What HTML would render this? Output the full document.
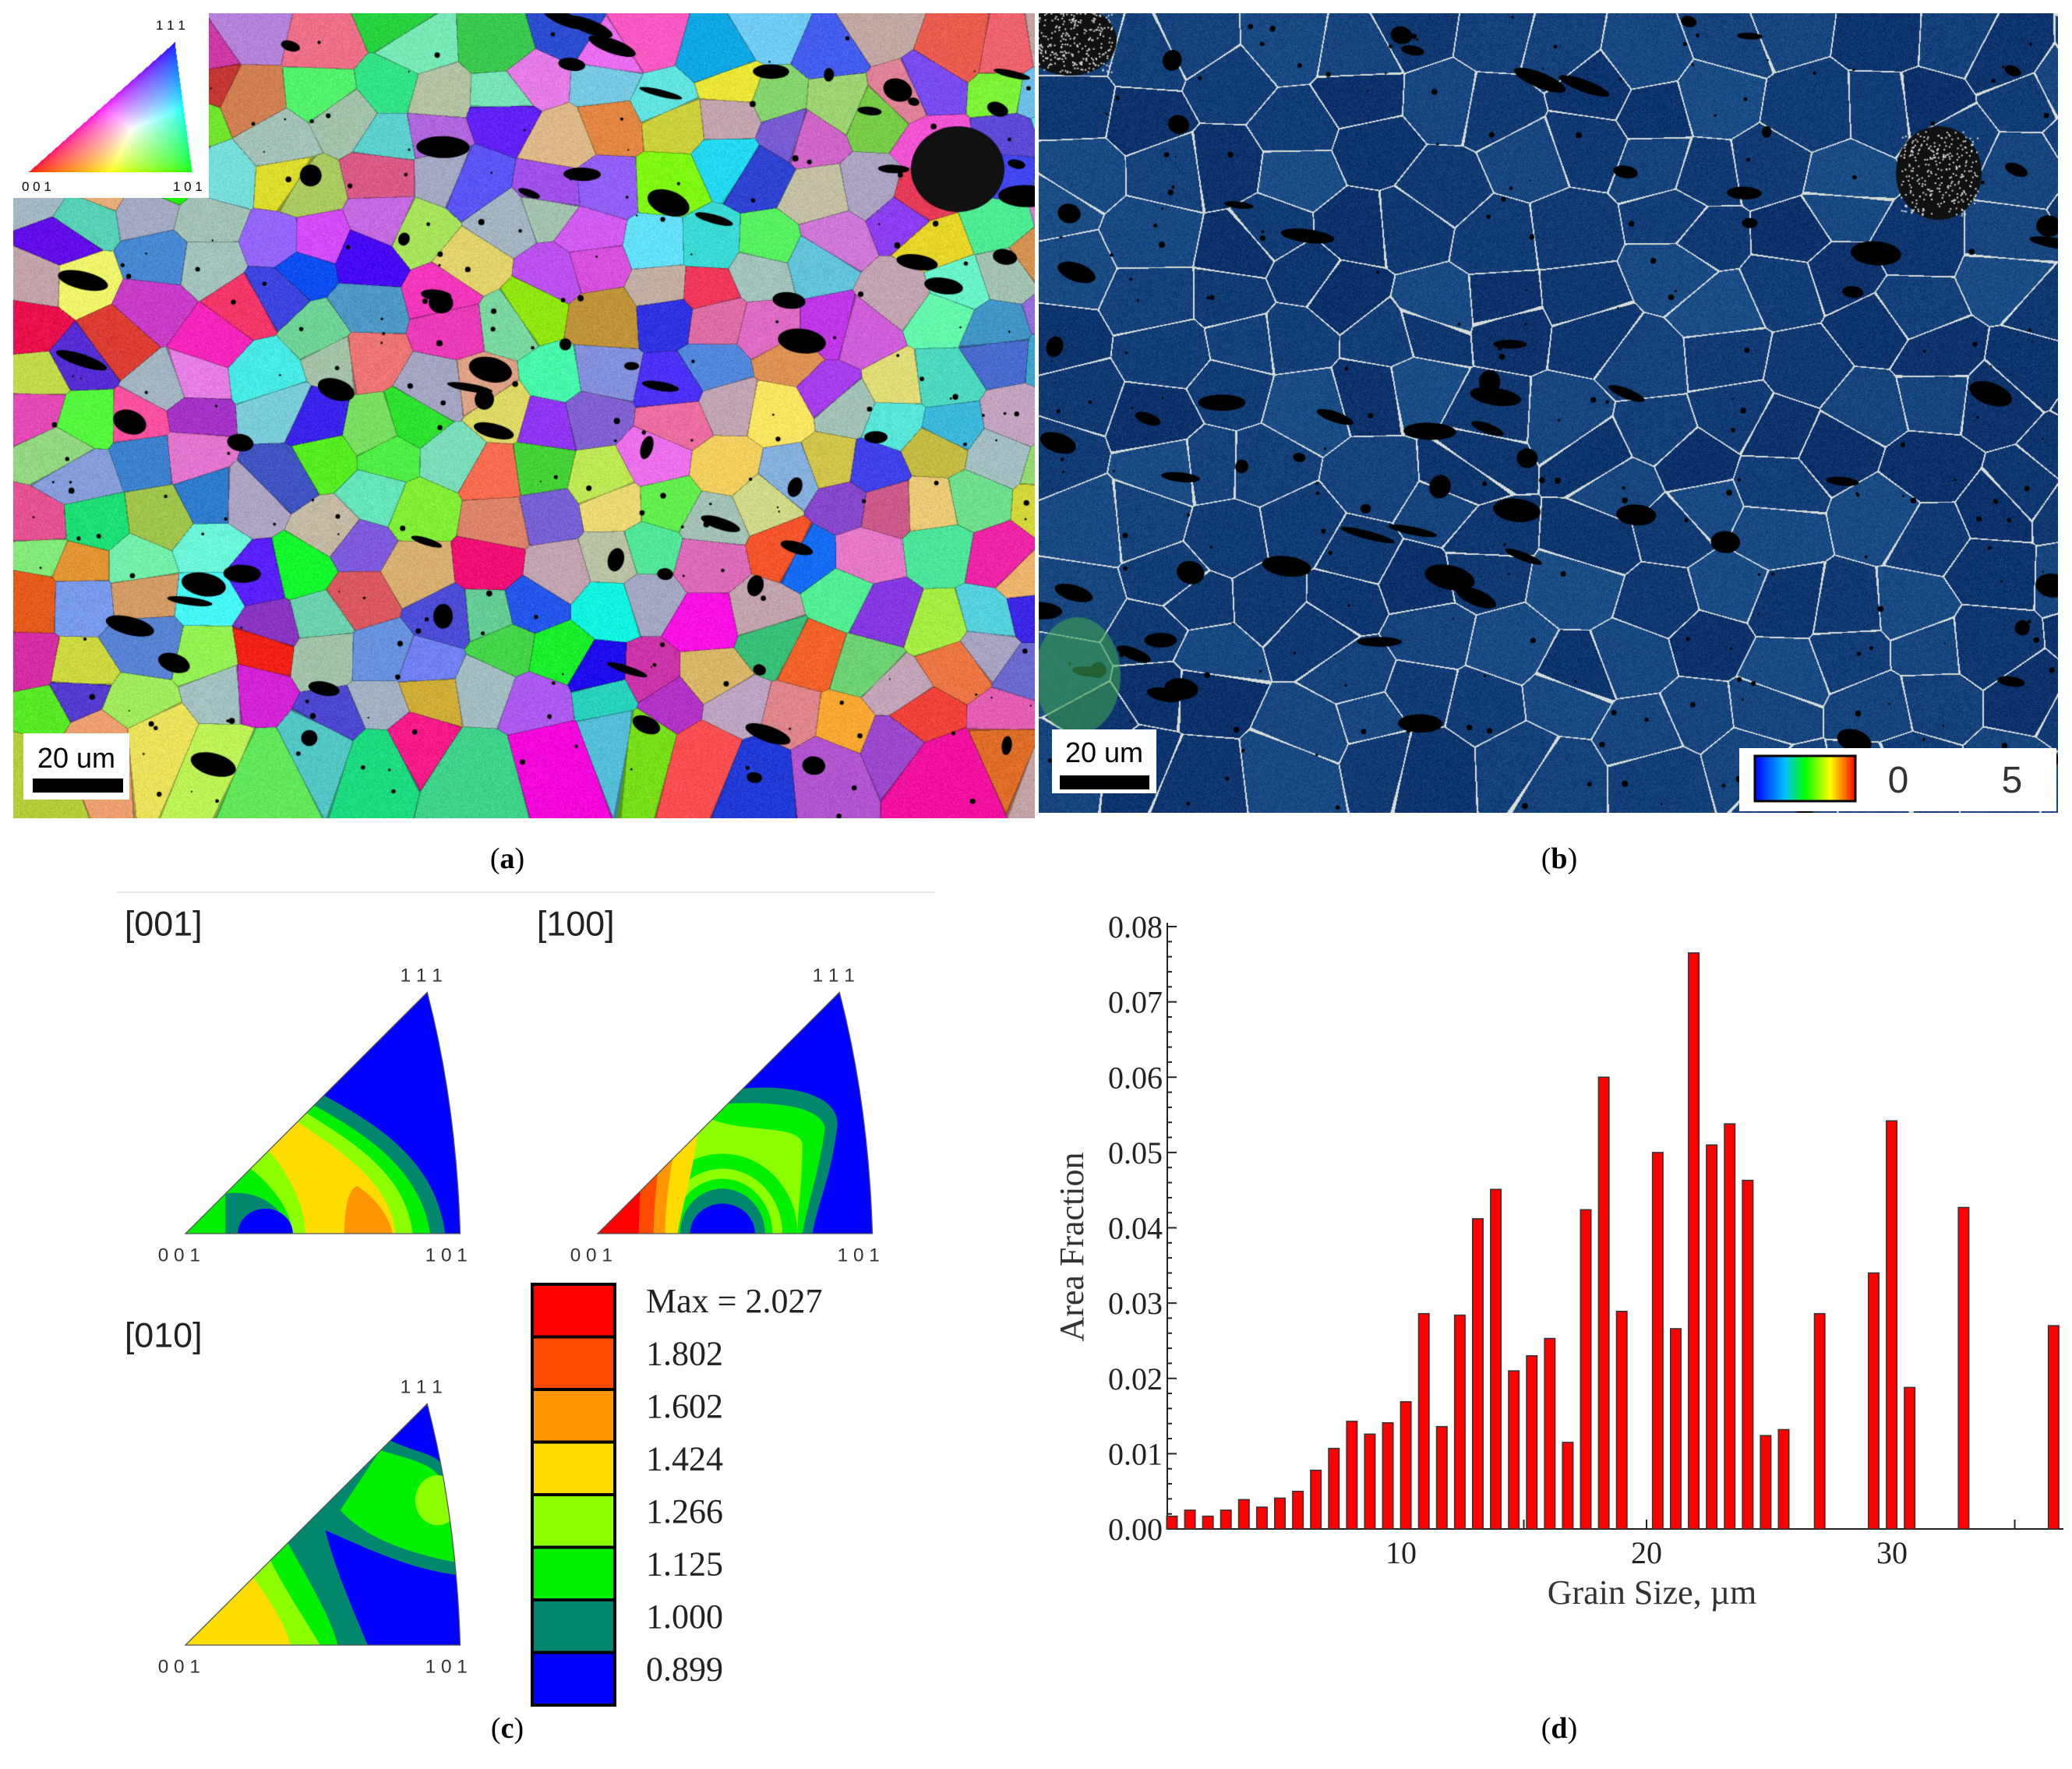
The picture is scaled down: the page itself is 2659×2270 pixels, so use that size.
<!DOCTYPE html>
<html><head><meta charset="utf-8">
<style>
html,body{margin:0;padding:0;background:#fff;}
body{width:2659px;height:2270px;position:relative;overflow:hidden;font-family:"Liberation Serif",serif;}
canvas{position:absolute;}
.lbl{position:absolute;font-size:38px;font-family:"Liberation Serif",serif;transform:translateX(-50%);}
</style></head><body>
<canvas id="ca" width="1311" height="1033" style="left:17px;top:17px"></canvas>
<canvas id="cb" width="1308" height="1026" style="left:1333px;top:17px"></canvas>
<svg id="ov" width="2659" height="2270" style="position:absolute;left:0;top:0" xmlns="http://www.w3.org/2000/svg">
  <g>
    <rect x="17" y="17" width="251" height="237" fill="#fff"/>
    <foreignObject x="37" y="54" width="210" height="167"><canvas xmlns="http://www.w3.org/1999/xhtml" id="ck" width="210" height="167" style="position:static"></canvas></foreignObject>
    <text x="28" y="245" font-size="17" font-family="Liberation Sans">0 0 1</text>
    <text x="222" y="245" font-size="17" font-family="Liberation Sans">1 0 1</text>
    <text x="200" y="38" font-size="17" font-family="Liberation Sans">1 1 1</text>
  </g>
  <g>
    <rect x="30" y="941" width="136" height="85" fill="#fff"/>
    <text x="98" y="985" font-size="36" font-family="Liberation Sans" text-anchor="middle">20 um</text>
    <rect x="42" y="999" width="116" height="18" fill="#000"/>
  </g>
  <g>
    <rect x="1350" y="936" width="134" height="82" fill="#fff"/>
    <text x="1417" y="978" font-size="36" font-family="Liberation Sans" text-anchor="middle">20 um</text>
    <rect x="1360" y="995" width="115" height="18" fill="#000"/>
  </g>
  <g>
    <defs><linearGradient id="rb" x1="0" x2="1"><stop offset="0" stop-color="#0000ff"/><stop offset="0.3" stop-color="#00c0ff"/><stop offset="0.5" stop-color="#00ff00"/><stop offset="0.75" stop-color="#ffff00"/><stop offset="1" stop-color="#ff0000"/></linearGradient></defs>
    <rect x="2232" y="960" width="407" height="81" fill="#fff"/>
    <rect x="2252" y="970" width="129" height="58" fill="url(#rb)" stroke="#000" stroke-width="3"/>
    <text x="2436" y="1017" font-size="48" font-family="Liberation Sans" text-anchor="middle" fill="#333">0</text>
    <text x="2582" y="1017" font-size="48" font-family="Liberation Sans" text-anchor="middle" fill="#333">5</text>
  </g>
  <line x1="150" y1="1145" x2="1200" y2="1145" stroke="#e6e6e6" stroke-width="2"/>
  <g id="pf"></g>
  <g id="legend"></g>
  <g id="chart"></g>
</svg>
<div class="lbl" style="left:651px;top:1080px">(<b>a</b>)</div>
<div class="lbl" style="left:2001px;top:1080px">(<b>b</b>)</div>
<div class="lbl" style="left:651px;top:2196px">(<b>c</b>)</div>
<div class="lbl" style="left:2001px;top:2196px">(<b>d</b>)</div>
<script>
// ---- histogram data ----
const binStart = 0.667;
const binStep = 0.733;
const areaFraction = [0.0017,0.0025,0.0017,0.0025,0.0039,0.0029,0.0041,0.005,0.0078,0.0107,
 0.0143,0.0126,0.0141,0.0169,0.0286,0.0136,0.0284,0.0412,0.0451,0.021,
 0.023,0.0253,0.0115,0.0424,0.06,0.0289,0,0.05,0.0266,0.0765,
 0.051,0.0538,0.0463,0.0124,0.0132,0,0.0286,0,0,0.034,
 0.0542,0.0188,0,0,0.0427,0,0,0,0,0.027];
const yTickLabels = ["0.00","0.01","0.02","0.03","0.04","0.05","0.06","0.07","0.08"];
const xTickLabels = ["10","20","30"];
const legendLabels = ["Max = 2.027","1.802","1.602","1.424","1.266","1.125","1.000","0.899"];
const legendColors = ["#ff0000","#ff4b00","#ff9600","#ffdc00","#8cff00","#00f000","#00876e","#0000ff"];

const NS="http://www.w3.org/2000/svg";
function mk(tag,attrs,parent){const e=document.createElementNS(NS,tag);for(const k in attrs)e.setAttribute(k,attrs[k]);parent.appendChild(e);return e;}
const xs=v=>1798+(v-10)*31.5;
const ys=v=>1962-v/0.08*773;
const chart=document.getElementById('chart');
mk('line',{x1:1498,y1:ys(0),x2:2648,y2:ys(0),stroke:'#222','stroke-width':2},chart);
mk('line',{x1:1498,y1:ys(0),x2:1498,y2:ys(0.0805),stroke:'#222','stroke-width':2},chart);
for(let i=0;i<=40;i++){const v=i*0.002;const len=i%5==0?12:6;mk('line',{x1:1498,y1:ys(v),x2:1498+len,y2:ys(v),stroke:'#222','stroke-width':2},chart);}
yTickLabels.forEach((t,i)=>{const e=mk('text',{x:1492,y:ys(i*0.01)+14,'text-anchor':'end','font-size':40,fill:'#222'},chart);e.textContent=t;
 
 });
[5,10,15,20,25,30,35].forEach(v=>mk('line',{x1:xs(v),y1:ys(0),x2:xs(v),y2:ys(0)-12,stroke:'#222','stroke-width':2},chart));
xTickLabels.forEach(t=>{const e=mk('text',{x:xs(+t),y:2006,'text-anchor':'middle','font-size':40,fill:'#222'},chart);e.textContent=t;
 
 });
areaFraction.forEach((v,i)=>{if(v<=0)return;const c=binStart+i*binStep;const r=mk('rect',{x:xs(c)-6.8,y:ys(v),width:13.5,height:ys(0)-ys(v),fill:'#ff0000',stroke:'#333','stroke-width':1.5},chart);
 
 });
let t=mk('text',{x:2120,y:2058,'text-anchor':'middle','font-size':44,fill:'#333'},chart);t.textContent='Grain Size, µm';


t=mk('text',{x:0,y:0,'text-anchor':'middle','font-size':44,fill:'#333',transform:'translate(1390,1600) rotate(-90)'},chart);t.textContent='Area Fraction';



// ---- legend ----
const lg=document.getElementById('legend');
legendColors.forEach((c,i)=>{const y=1648+i*67.5;const r=mk('rect',{x:683,y:y,width:106,height:67.5,fill:c,stroke:'#000','stroke-width':4},lg);
 
 
 const e=mk('text',{x:829,y:y+36,'font-size':44,fill:'#222'},lg);e.textContent=legendLabels[i];
 
 });

// ---- pole figures ----
const pf=document.getElementById('pf');
const C={b:'#0000ff',dg:'#00876e',g:'#00f000',lg:'#8cff00',y:'#ffdc00',o:'#ff9600',or:'#ff4b00',r:'#ff0000'};
const tri='M0,0 L484,-483 Q542,-260 550,0 Z';
function drawTri(id,ox,oy,title,layers){
  const g=mk('g',{transform:`translate(${ox},${oy}) scale(0.641)`},pf);
  
  
  const cp=mk('clipPath',{id:'cp'+id},g);mk('path',{d:tri},cp);
  const inner=mk('g',{'clip-path':`url(#cp${id})`},g);
  mk('path',{d:tri,fill:C.b},inner);
  layers.forEach(L=>{if(L[0]=='e')mk('ellipse',{cx:L[2],cy:L[3],rx:L[4],ry:L[5],fill:C[L[1]]},inner);else mk('path',{d:L[1],fill:C[L[0]]},inner);});
  mk('path',{d:tri,fill:'none',stroke:'#555','stroke-width':2},g);
  const s={'font-size':38,'font-family':'Liberation Sans',fill:'#333'};
  let e=mk('text',Object.assign({x:-55,y:55},s),g);e.textContent='0 0 1';
  e=mk('text',Object.assign({x:480,y:55},s),g);e.textContent='1 0 1';
  e=mk('text',Object.assign({x:430,y:-505},s),g);e.textContent='1 1 1';
  e=mk('text',{x:-122,y:-597,'font-size':70,'font-family':'Liberation Sans',fill:'#222'},g);e.textContent=title;
}
drawTri('001',238,1583,'[001]',[
 ['dg','M275,-278 C380,-220 500,-150 520,0 L0,0Z'],
 ['g','M255,-258 C360,-200 470,-130 490,0 L0,0Z'],
 ['lg','M240,-243 C340,-180 440,-120 455,0 L0,0Z'],
 ['y','M222,-225 C320,-160 410,-100 420,0 L0,0Z'],
 ['lg','M165,-168 C200,-130 240,-60 240,0 L0,0Z'],
 ['g','M130,-130 C170,-100 210,-50 215,0 L0,0Z'],
 ['dg','M80,-80 C150,-90 200,-50 205,0 L80,0Z'],
 ['e','b',160,0,55,50],
 ['o','M318,0 C318,-60 330,-95 345,-95 C380,-70 405,-40 415,0 Z']
]);
drawTri('100',767,1583,'[100]',[
 ['dg','M287,-290 C380,-300 480,-280 480,-220 C470,-120 440,-60 430,0 L0,0Z'],
 ['g','M258,-260 C330,-265 450,-260 455,-210 C445,-130 420,-60 410,0 L0,0Z'],
 ['lg','M225,-230 C300,-200 400,-220 410,-180 C410,-100 400,-50 400,0 L0,0Z'],
 ['e','g',250,0,150,160],
 ['e','lg',250,0,120,130],
 ['e','g',250,0,100,110],
 ['e','dg',250,0,85,90],
 ['e','b',250,0,65,60],
 ['y','M200,-200 C190,-120 170,-60 160,0 L0,0Z'],
 ['o','M150,-150 C140,-90 135,-40 135,0 L0,0Z'],
 ['or','M120,-120 C115,-70 112,-30 112,0 L0,0Z'],
 ['r','M85,-85 L82,0 L0,0Z']
]);
drawTri('010',238,2111,'[010]',[
 ['dg','M410,-410 C460,-385 500,-385 515,-360 L548,-140 C450,-150 350,-200 280,-230 C300,-150 340,-60 365,0 L0,0Z'],
 ['g','M390,-390 C450,-372 500,-362 512,-330 L545,-165 C440,-185 360,-215 310,-270 Z'],
 ['e','lg',505,-290,45,50],
 ['g','M205,-205 C240,-140 290,-60 305,0 L0,0Z'],
 ['lg','M170,-170 C200,-110 240,-50 270,0 L0,0Z'],
 ['y','M135,-135 C170,-90 200,-40 210,0 L0,0Z']
]);

// ---- microstructure maps ----
function rng(s){return function(){s|=0;s=s+0x6D2B79F5|0;let t=Math.imul(s^s>>>15,1|s);t=t+Math.imul(t^t>>>7,61|t)^t;return((t^t>>>14)>>>0)/4294967296;}}
function hsl(h,s,l){s/=100;l/=100;const k=n=>(n+h/30)%12,a=s*Math.min(l,1-l),f=n=>l-a*Math.max(-1,Math.min(k(n)-3,Math.min(9-k(n),1)));return[255*f(0),255*f(8),255*f(4)];}
function voronoi(cv,cell,seed,colorFn,boundary){
  const W=cv.width,H=cv.height,ctx=cv.getContext('2d'),R=rng(seed);
  const gw=Math.ceil(W/cell)+1,gh=Math.ceil(H/cell)+1,px=[],py=[],col=[];
  for(let j=0;j<gh;j++)for(let i=0;i<gw;i++){px.push((i+0.1+R()*0.8)*cell);py.push((j+0.1+R()*0.8)*cell*0.85);col.push(colorFn(R));}
  const img=ctx.createImageData(W,H),d=img.data;
  const ch=cell*0.85;
  for(let y=0;y<H;y++){const cj=Math.floor(y/ch);for(let x=0;x<W;x++){const ci=Math.floor(x/cell);
    let b1=1e12,b2=1e12,bi=0;
    for(let dj=-2;dj<=2;dj++){const jj=cj+dj;if(jj<0||jj>=gh)continue;for(let di=-2;di<=2;di++){const ii=ci+di;if(ii<0||ii>=gw)continue;
      const k=jj*gw+ii,dx=px[k]-x,dy=(py[k]-y)*1.15,dd=dx*dx+dy*dy;if(dd<b1){b2=b1;b1=dd;bi=k;}else if(dd<b2)b2=dd;}}
    const o=(y*W+x)*4,c=col[bi],n=(R()-0.5)*30;
    if(boundary&&Math.sqrt(b2)-Math.sqrt(b1)<1.8){d[o]=215;d[o+1]=220;d[o+2]=215;}
    else if(!boundary&&Math.sqrt(b2)-Math.sqrt(b1)<1.2){d[o]=c[0]*0.7;d[o+1]=c[1]*0.7;d[o+2]=c[2]*0.7;}
    else{d[o]=c[0]+n;d[o+1]=c[1]+n;d[o+2]=c[2]+n;}
    d[o+3]=255;}}
  ctx.putImageData(img,0,0);
  ctx.fillStyle='#000';
  for(let i=0;i<70;i++){const x=R()*W,y=R()*H,w=6+R()*30,h=4+R()*12;ctx.beginPath();ctx.ellipse(x,y,w,h,R()*0.4,0,7);ctx.fill();}
  for(let i=0;i<200;i++){ctx.beginPath();ctx.arc(R()*W,R()*H,1+R()*3,0,7);ctx.fill();}
}
voronoi(document.getElementById('ca'),72,7,R=>R()<0.15?hsl(R()*360,20,70):hsl(R()*360,50+R()*45,48+R()*22),false);
(function(){const c=document.getElementById('ca').getContext('2d');c.fillStyle='#111';c.beginPath();c.ellipse(1212,200,60,55,0,0,7);c.fill();})();
voronoi(document.getElementById('cb'),92,11,R=>{const v=R();return[12+v*15,48+v*30,105+v*30];},true);
(function(){const c=document.getElementById('cb').getContext('2d'),R=rng(3);
 [[40,35,60,45],[1155,205,55,60]].forEach(a=>{c.fillStyle='#111';c.beginPath();c.ellipse(a[0],a[1],a[2],a[3],0,0,7);c.fill();
  c.fillStyle='#ddd';for(let i=0;i<300;i++){c.fillRect(a[0]+(R()-0.5)*a[2]*1.8,a[1]+(R()-0.5)*a[3]*1.8,2,2);}});
 c.fillStyle='rgba(60,160,80,0.6)';c.beginPath();c.ellipse(50,850,55,75,0,0,7);c.fill();})();
// color key
(function(){const cv=document.getElementById('ck'),c=cv.getContext('2d'),W=210,H=167,img=c.createImageData(W,H),d=img.data;
 const A=[0,166],B=[209,166],T=[187,0];
 for(let y=0;y<H;y++)for(let x=0;x<W;x++){
  const den=(B[1]-T[1])*(A[0]-T[0])+(T[0]-B[0])*(A[1]-T[1]);
  const l1=((B[1]-T[1])*(x-T[0])+(T[0]-B[0])*(y-T[1]))/den,l2=((T[1]-A[1])*(x-T[0])+(A[0]-T[0])*(y-T[1]))/den,l3=1-l1-l2;
  if(l1<0||l2<0||l3<-0.03)continue;const m=Math.max(l1,l2,Math.max(l3,0)),o=(y*W+x)*4;
  d[o]=255*Math.sqrt(l1/m);d[o+1]=255*Math.sqrt(l2/m);d[o+2]=255*Math.sqrt(Math.max(l3,0)/m);d[o+3]=255;}
 c.putImageData(img,0,0);})();
</script>
</body></html>
